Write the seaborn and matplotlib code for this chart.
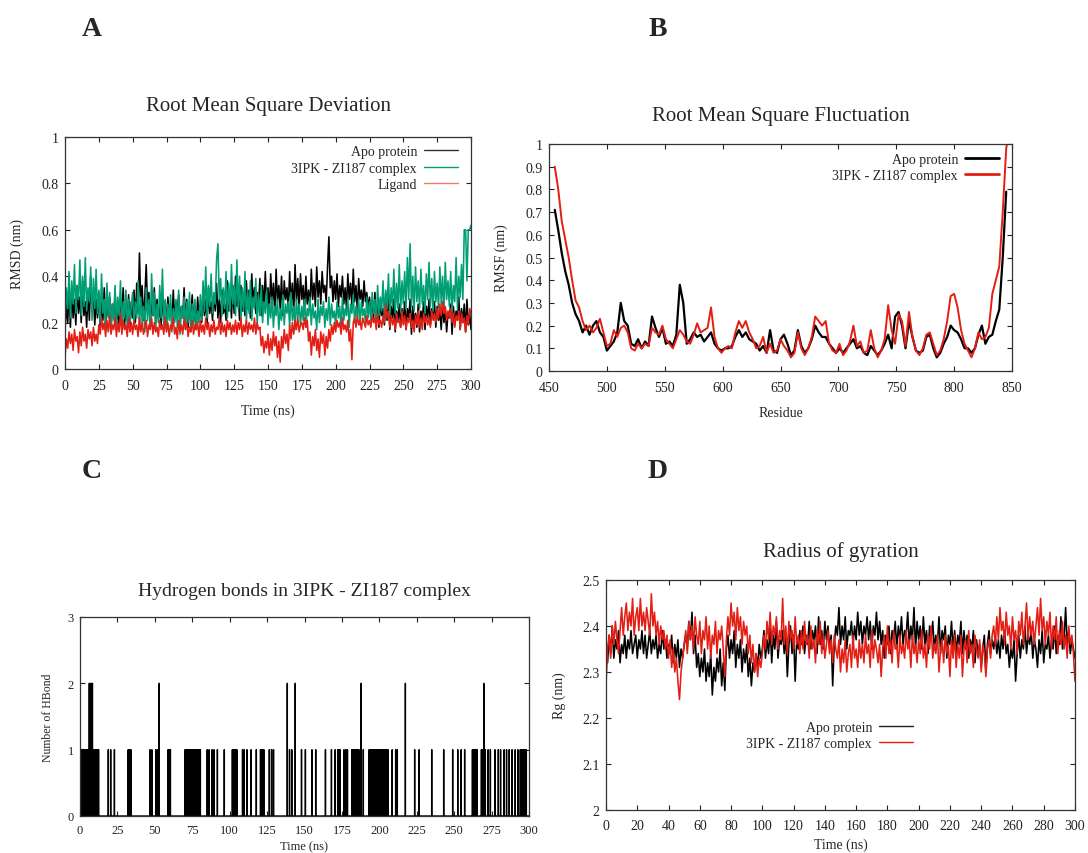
import numpy as np
import matplotlib
matplotlib.use("Agg")
import matplotlib.pyplot as plt
from matplotlib.lines import Line2D
from matplotlib.ticker import FuncFormatter, MultipleLocator
import seaborn as sns

# ---------------- data ----------------
# Panel A: RMSD (nm), sampled every 1 ns from 0 to 300 ns
rmsd_time_step = 1.0
rmsd_apo = [
    .16, .28, .20, .33, .18, .35, .22, .30, .19, .36, .24, .31, .20, .38, .23, .29, .18, .34, .21, .40, .25, .32, .19, .30, .22,
    .33, .18, .29, .21, .35, .19, .27, .23, .31, .17, .28, .22, .33, .20, .26, .18, .30, .24, .35, .19, .27, .21, .32, .18, .29,
    .22, .34, .20, .37, .24, .50, .27, .36, .21, .31, .45, .26, .33, .19, .29, .23, .35, .20, .30, .22, .27, .18, .33, .21, .29,
    .19, .31, .23, .28, .18, .34, .21, .29, .25, .32, .19, .27, .22, .35, .20, .30, .18, .26, .23, .32, .20, .28, .17, .31, .22,
    .27, .20, .33, .23, .30, .19, .35, .24, .29, .21, .32, .25, .37, .22, .30, .20, .34, .24, .28, .21, .38, .25, .33, .22, .36,
    .24, .40, .27, .33, .21, .36, .25, .31, .23, .38, .26, .34, .22, .41, .28, .35, .24, .33, .27, .39, .23, .36, .26, .42, .28,
    .35, .25, .41, .28, .37, .24, .43, .29, .36, .26, .40, .23, .38, .30, .35, .25, .42, .28, .37, .24, .45, .29, .39, .26, .41,
    .30, .36, .25, .40, .28, .34, .26, .43, .30, .37, .27, .44, .31, .38, .28, .42, .33, .36, .29, .44, .57, .35, .40, .29, .38,
    .30, .41, .27, .36, .31, .40, .28, .35, .26, .41, .30, .37, .27, .43, .29, .36, .25, .39, .30, .34, .27, .38, .29, .33, .26,
    .31, .24, .29, .22, .33, .20, .28, .18, .30, .23, .26, .19, .29, .21, .32, .17, .27, .22, .30, .16, .25, .21, .28, .18, .26,
    .20, .29, .17, .26, .22, .30, .15, .27, .20, .24, .18, .28, .16, .25, .21, .29, .17, .27, .22, .30, .19, .26, .23, .29, .18,
    .27, .21, .25, .17, .29, .20, .26, .16, .24, .22, .28, .15, .27, .19, .25, .21, .31, .17, .26, .20, .28, .16, .30, .19, .24,
    .17]
rmsd_complex = [
    .20, .35, .26, .42, .22, .38, .28, .45, .24, .36, .30, .47, .23, .40, .27, .48, .25, .35, .29, .44, .21, .39, .26, .43, .24,
    .34, .20, .41, .24, .30, .18, .37, .22, .33, .17, .28, .21, .36, .19, .31, .23, .38, .18, .29, .22, .34, .17, .30, .20, .27,
    .33, .18, .29, .22, .38, .17, .31, .20, .27, .16, .35, .21, .30, .18, .41, .23, .33, .17, .28, .20, .36, .22, .43, .19, .30,
    .17, .28, .21, .32, .16, .26, .20, .30, .18, .34, .15, .27, .22, .31, .17, .29, .20, .33, .16, .28, .19, .30, .17, .25, .20,
    .32, .21, .38, .25, .44, .22, .36, .27, .41, .24, .33, .28, .47, .54, .30, .39, .23, .35, .26, .42, .22, .37, .25, .45, .28,
    .36, .23, .47, .26, .40, .21, .35, .25, .42, .20, .33, .24, .38, .21, .31, .26, .39, .19, .32, .23, .36, .20, .29, .24, .34,
    .19, .28, .22, .31, .18, .27, .23, .30, .17, .26, .21, .32, .19, .28, .24, .29, .18, .33, .21, .27, .17, .30, .22, .28, .19,
    .27, .21, .30, .18, .26, .23, .31, .19, .28, .22, .25, .17, .30, .20, .27, .23, .29, .18, .26, .21, .31, .19, .28, .22, .25,
    .19, .29, .22, .27, .17, .31, .21, .26, .23, .30, .18, .28, .24, .32, .20, .27, .22, .30, .19, .29, .23, .26, .20, .31, .22,
    .29, .21, .33, .24, .30, .20, .36, .23, .31, .25, .38, .22, .34, .26, .41, .23, .35, .27, .43, .24, .37, .26, .45, .25, .38,
    .28, .42, .26, .48, .30, .54, .27, .40, .25, .44, .29, .38, .26, .43, .28, .36, .24, .41, .30, .46, .27, .39, .25, .42, .29,
    .37, .26, .44, .28, .40, .24, .46, .30, .38, .27, .42, .25, .36, .29, .48, .26, .40, .31, .45, .30, .60, .60, .38, .60, .60,
    .62]
rmsd_ligand = [
    .05, .13, .09, .16, .11, .15, .08, .17, .12, .14, .07, .16, .10, .18, .12, .15, .09, .17, .13, .16, .10, .18, .12, .15, .11,
    .19, .15, .22, .17, .20, .14, .21, .16, .23, .15, .19, .17, .22, .14, .20, .16, .24, .15, .21, .17, .19, .14, .22, .16, .20,
    .15, .21, .17, .19, .14, .22, .16, .20, .15, .18, .21, .14, .19, .17, .22, .15, .20, .16, .18, .14, .21, .17, .19, .15, .22,
    .16, .20, .14, .19, .17, .22, .15, .18, .13, .21, .16, .19, .15, .22, .17, .20, .14, .18, .16, .21, .15, .19, .17, .20, .14,
    .21, .16, .19, .15, .22, .17, .20, .14, .19, .16, .21, .15, .18, .17, .22, .15, .20, .16, .19, .14, .21, .17, .20, .15, .19,
    .16, .21, .15, .20, .17, .22, .14, .19, .16, .21, .15, .20, .17, .19, .16, .22, .15, .20, .17, .18, .10, .14, .07, .12, .09,
    .15, .06, .13, .08, .16, .10, .14, .05, .12, .03, .14, .09, .17, .11, .15, .08, .19, .13, .20, .15, .21, .17, .22, .16, .19,
    .20, .17, .22, .18, .21, .12, .16, .06, .14, .10, .17, .08, .13, .05, .16, .11, .15, .06, .14, .09, .17, .12, .19, .15, .20,
    .16, .21, .18, .20, .15, .22, .17, .19, .16, .21, .12, .17, .04, .20, .22, .18, .23, .19, .21, .17, .22, .20, .18, .23, .19,
    .21, .18, .23, .20, .22, .17, .24, .19, .21, .18, .23, .20, .28, .22, .25, .18, .23, .19, .22, .17, .24, .20, .21, .18, .25,
    .19, .23, .17, .22, .20, .24, .18, .21, .16, .23, .19, .25, .18, .22, .17, .24, .20, .23, .19, .22, .18, .25, .21, .24, .20,
    .26, .22, .28, .23, .29, .24, .27, .21, .25, .22, .26, .20, .24, .18, .23, .21, .25, .17, .24, .20, .22, .16, .23, .19, .26,
    .24]

# Panel B: RMSF (nm), every 3rd residue starting at residue 455
rmsf_first_residue = 455
rmsf_residue_step = 3
rmsf_apo = [
    .71, .62, .52, .44, .38, .30, .25, .22, .17, .20, .16, .20, .22, .17, .15,
    .09, .11, .13, .17, .30, .22, .20, .12, .11, .14, .10, .13, .11, .24, .19,
    .15, .19, .12, .13, .11, .16, .38, .30, .12, .14, .17, .15, .16, .13, .15,
    .17, .12, .10, .09, .10, .10, .11, .15, .18, .15, .17, .14, .13, .12, .09,
    .11, .08, .18, .09, .08, .14, .16, .12, .07, .09, .18, .11, .08, .10, .14,
    .20, .17, .15, .15, .12, .10, .08, .10, .08, .10, .12, .14, .10, .11, .08,
    .07, .11, .09, .07, .09, .12, .16, .10, .24, .26, .20, .10, .22, .15, .09,
    .08, .09, .15, .16, .10, .06, .08, .12, .15, .20, .18, .17, .14, .10, .10,
    .08, .10, .16, .20, .12, .15, .16, .22, .27, .50, .79]
rmsf_complex = [
    .90, .80, .66, .58, .50, .40, .31, .28, .22, .18, .20, .17, .19, .23, .17,
    .11, .12, .18, .15, .19, .20, .17, .10, .09, .12, .10, .12, .11, .19, .17,
    .16, .20, .14, .12, .10, .14, .18, .16, .13, .12, .16, .21, .17, .18, .19,
    .28, .15, .10, .08, .10, .11, .10, .17, .22, .19, .22, .17, .14, .10, .11,
    .15, .08, .12, .08, .09, .14, .11, .09, .06, .08, .17, .10, .07, .10, .15,
    .24, .22, .20, .22, .12, .09, .08, .12, .07, .09, .13, .20, .11, .13, .08,
    .09, .18, .10, .06, .09, .14, .29, .18, .12, .25, .22, .11, .26, .15, .09,
    .07, .10, .16, .17, .12, .07, .09, .14, .22, .33, .34, .28, .18, .12, .09,
    .06, .10, .17, .14, .15, .19, .34, .40, .46, .70, .98, 1.08]

# Panel C: hydrogen bonds (times in ns)
hbond_dense_ns = [
    0.2, 0.8, 1.4, 2.0, 2.6, 3.2, 3.8, 4.4, 5.0, 5.6, 6.6, 7.2, 7.8, 8.8, 9.4,
    10.0, 10.8, 11.6, 12.4,
    32.2, 32.8, 33.4, 34.0,
    58.8, 59.6, 60.4,
    70.2, 70.8, 71.4, 72.0, 72.6, 73.2, 73.8, 74.4, 75.0, 75.6, 76.2, 76.8,
    77.4, 78.0, 78.6, 79.2, 79.8, 80.4,
    101.8, 102.6, 103.4, 104.2, 104.8,
    120.6, 121.4, 122.2, 122.8,
    172.2, 173.0, 173.8,
    181.6, 182.2, 182.8, 183.4, 184.0, 184.6, 185.2, 185.8, 186.4,
    193.2, 194.0, 194.8, 195.6, 196.4, 197.0, 197.8, 198.6, 199.4, 200.2,
    201.0, 201.8, 202.6, 203.4, 204.2, 205.0, 205.8,
    262.2, 262.8, 263.4, 264.0, 264.6, 265.4,
    268.2, 268.8, 269.4, 270.2, 270.8,
    294.2, 295.0, 295.8, 296.6, 297.4, 298.2]
hbond_single_ns = [
    18.9, 20.5, 23.0, 46.7, 48.0, 50.6, 51.8, 85.0, 86.3, 88.3, 89.5, 91.8,
    96.4, 108.6, 109.7, 111.6, 114.3, 117.8, 126.5, 128.0, 129.3, 140.0,
    141.5, 148.0, 150.6, 155.0, 157.5, 164.0, 168.0, 170.5, 176.4, 177.6,
    178.7, 189.3, 208.6, 210.9, 212.0, 223.6, 226.6, 235.0, 243.0, 249.0,
    252.4, 254.7, 257.0, 272.7, 274.2, 277.2, 279.5, 281.0, 283.4, 285.0,
    286.8, 288.7, 290.8, 292.6]
hbond_double_ns = [6.2, 7.2, 8.3, 52.9, 138.5, 143.8, 187.8, 217.4, 269.8]

# Panel D: radius of gyration (nm), every 1 ns
rg_time_step = 1.0
rg_apo = [
    2.35, 2.32, 2.38, 2.34, 2.40, 2.33, 2.37, 2.35, 2.39, 2.32, 2.36, 2.34, 2.38, 2.33, 2.37, 2.35, 2.39, 2.34, 2.36, 2.38, 2.33, 2.37, 2.35, 2.39, 2.34,
    2.38, 2.33, 2.36, 2.39, 2.34, 2.37, 2.35, 2.38, 2.33, 2.36, 2.34, 2.39, 2.35, 2.37, 2.33, 2.36, 2.34, 2.38, 2.32, 2.36, 2.33, 2.37, 2.31, 2.35, 2.33,
    2.36, 2.38, 2.35, 2.41, 2.37, 2.43, 2.34, 2.38, 2.31, 2.34, 2.29, 2.33, 2.30, 2.35, 2.28, 2.32, 2.29, 2.34, 2.25, 2.31, 2.28, 2.33, 2.30, 2.35, 2.27,
    2.32, 2.26, 2.35, 2.38, 2.33, 2.37, 2.34, 2.39, 2.31, 2.36, 2.33, 2.37, 2.30, 2.35, 2.32, 2.36, 2.29, 2.33, 2.27, 2.32, 2.30, 2.34, 2.31, 2.36, 2.33,
    2.35, 2.39, 2.33, 2.37, 2.34, 2.40, 2.32, 2.38, 2.35, 2.41, 2.33, 2.37, 2.36, 2.39, 2.34, 2.38, 2.29, 2.36, 2.40, 2.34, 2.38, 2.28, 2.37, 2.35, 2.39,
    2.36, 2.40, 2.34, 2.38, 2.36, 2.41, 2.35, 2.39, 2.37, 2.40, 2.34, 2.42, 2.36, 2.39, 2.35, 2.41, 2.37, 2.40, 2.35, 2.38, 2.27, 2.36, 2.40, 2.38, 2.44,
    2.36, 2.40, 2.37, 2.42, 2.35, 2.39, 2.38, 2.41, 2.36, 2.40, 2.37, 2.43, 2.38, 2.41, 2.36, 2.40, 2.38, 2.42, 2.37, 2.41, 2.35, 2.40, 2.38, 2.43, 2.37,
    2.41, 2.36, 2.39, 2.33, 2.38, 2.36, 2.40, 2.34, 2.39, 2.37, 2.41, 2.35, 2.40, 2.37, 2.42, 2.36, 2.39, 2.38, 2.43, 2.36, 2.40, 2.37, 2.44, 2.35, 2.41,
    2.37, 2.40, 2.35, 2.42, 2.36, 2.39, 2.34, 2.40, 2.37, 2.41, 2.35, 2.38, 2.36, 2.42, 2.34, 2.39, 2.37, 2.40, 2.33, 2.38, 2.36, 2.41, 2.35, 2.39, 2.34,
    2.38, 2.36, 2.41, 2.34, 2.39, 2.35, 2.38, 2.33, 2.37, 2.35, 2.39, 2.32, 2.37, 2.34, 2.36, 2.31, 2.35, 2.38, 2.30, 2.36, 2.39, 2.34, 2.37, 2.35, 2.38,
    2.34, 2.37, 2.33, 2.38, 2.35, 2.39, 2.34, 2.36, 2.31, 2.35, 2.33, 2.37, 2.28, 2.34, 2.38, 2.33, 2.37, 2.35, 2.40, 2.34, 2.38, 2.36, 2.39, 2.33, 2.37,
    2.35, 2.31, 2.37, 2.34, 2.39, 2.32, 2.36, 2.35, 2.38, 2.33, 2.37, 2.35, 2.40, 2.34, 2.38, 2.36, 2.42, 2.35, 2.37, 2.44, 2.36, 2.39, 2.34, 2.37, 2.35,
    2.33]
rg_complex = [
    2.27, 2.35, 2.38, 2.33, 2.40, 2.36, 2.41, 2.37, 2.34, 2.39, 2.44, 2.38, 2.42, 2.45, 2.39, 2.43, 2.40, 2.46, 2.38, 2.42, 2.44, 2.39, 2.46, 2.40, 2.43,
    2.39, 2.44, 2.41, 2.38, 2.47, 2.40, 2.43, 2.38, 2.41, 2.36, 2.40, 2.37, 2.39, 2.35, 2.38, 2.33, 2.37, 2.31, 2.35, 2.30, 2.33, 2.28, 2.24, 2.30, 2.33,
    2.36, 2.39, 2.34, 2.41, 2.37, 2.40, 2.35, 2.42, 2.38, 2.36, 2.41, 2.34, 2.39, 2.37, 2.42, 2.35, 2.40, 2.33, 2.38, 2.36, 2.41, 2.34, 2.39, 2.37, 2.40,
    2.35, 2.29, 2.37, 2.42, 2.38, 2.45, 2.40, 2.43, 2.37, 2.44, 2.39, 2.42, 2.36, 2.41, 2.38, 2.40, 2.34, 2.38, 2.32, 2.36, 2.30, 2.34, 2.29, 2.33, 2.31,
    2.34, 2.38, 2.35, 2.41, 2.37, 2.43, 2.36, 2.40, 2.38, 2.42, 2.35, 2.39, 2.37, 2.46, 2.36, 2.40, 2.34, 2.41, 2.37, 2.39, 2.35, 2.42, 2.36, 2.38, 2.34,
    2.39, 2.35, 2.41, 2.36, 2.38, 2.33, 2.40, 2.35, 2.37, 2.32, 2.39, 2.36, 2.41, 2.34, 2.38, 2.33, 2.36, 2.39, 2.34, 2.37, 2.32, 2.38, 2.35, 2.33, 2.37,
    2.30, 2.35, 2.32, 2.37, 2.30, 2.34, 2.36, 2.31, 2.38, 2.33, 2.35, 2.31, 2.37, 2.33, 2.36, 2.32, 2.38, 2.34, 2.36, 2.31, 2.39, 2.33, 2.37, 2.35, 2.32,
    2.36, 2.29, 2.35, 2.38, 2.33, 2.40, 2.34, 2.37, 2.32, 2.39, 2.35, 2.36, 2.31, 2.38, 2.34, 2.36, 2.33, 2.39, 2.35, 2.37, 2.31, 2.38, 2.34, 2.36, 2.32,
    2.37, 2.34, 2.39, 2.33, 2.36, 2.31, 2.38, 2.35, 2.40, 2.33, 2.36, 2.34, 2.38, 2.30, 2.35, 2.37, 2.32, 2.38, 2.34, 2.36, 2.29, 2.37, 2.33, 2.38, 2.31,
    2.36, 2.33, 2.38, 2.29, 2.35, 2.37, 2.32, 2.39, 2.34, 2.36, 2.31, 2.38, 2.35, 2.33, 2.37, 2.30, 2.36, 2.34, 2.29, 2.35, 2.37, 2.33, 2.38, 2.40, 2.36,
    2.42, 2.37, 2.44, 2.39, 2.41, 2.36, 2.43, 2.38, 2.40, 2.35, 2.42, 2.37, 2.39, 2.34, 2.41, 2.38, 2.43, 2.36, 2.40, 2.45, 2.37, 2.42, 2.38, 2.41, 2.36,
    2.40, 2.44, 2.38, 2.46, 2.39, 2.42, 2.36, 2.41, 2.38, 2.43, 2.35, 2.40, 2.37, 2.42, 2.34, 2.39, 2.36, 2.41, 2.35, 2.38, 2.33, 2.40, 2.36, 2.38, 2.34,
    2.28]

# ---------------- style ----------------
sns.set_theme(style="ticks")
plt.rcParams["font.family"] = ["Liberation Serif", "DejaVu Serif"]
plt.rcParams["axes.linewidth"] = 0.9

BLACK = "#000000"
GREEN = "#009E73"
RED = "#E31E14"

W, H = 1088.0, 854.0
fig = plt.figure(figsize=(10.88, 8.54), dpi=100)


def px_axes(left, top, right, bottom):
    return fig.add_axes([left / W, 1 - bottom / H, (right - left) / W, (bottom - top) / H])


fmt = FuncFormatter(lambda v, p: "%g" % round(v, 4))


def style_axes(ax, fs=10, xpad=7.5):
    ax.tick_params(direction="in", top=True, right=True, length=3.5, width=0.8,
                   labelsize=fs, colors="#222222")
    ax.tick_params(axis="x", pad=xpad)
    ax.tick_params(axis="y", pad=4.5)
    for s in ax.spines.values():
        s.set_visible(True)
        s.set_color("#333333")
    ax.xaxis.set_major_formatter(fmt)
    ax.yaxis.set_major_formatter(fmt)


def legend(ax, labels, colors, lw, right_px, top_px, spacing=0.26):
    handles = [Line2D([0], [0], color=c, lw=lw) for c in colors]
    return ax.legend(handles, labels, markerfirst=False, frameon=False,
                     fontsize=10, handlelength=2.45, handletextpad=0.5,
                     labelspacing=spacing, borderpad=0, borderaxespad=0,
                     loc="upper right",
                     bbox_to_anchor=(right_px / W, 1 - top_px / H),
                     bbox_transform=fig.transFigure)


DENSE_LW = 1.15

# ---------------- A: RMSD ----------------
axA = px_axes(65, 138, 471, 370)
for vals, col in [(rmsd_apo, BLACK), (rmsd_complex, GREEN), (rmsd_ligand, RED)]:
    sns.lineplot(x=np.arange(len(vals)) * rmsd_time_step, y=vals, ax=axA,
                 color=col, lw=DENSE_LW, estimator=None)
axA.set_xlim(0, 300)
axA.set_ylim(0, 1)
axA.xaxis.set_major_locator(MultipleLocator(25))
axA.yaxis.set_major_locator(MultipleLocator(0.2))
style_axes(axA)
axA.set_xlabel("Time (ns)", fontsize=10, labelpad=8)
axA.set_ylabel("RMSD (nm)", fontsize=10)
axA.yaxis.set_label_coords(-0.101, 0.5)
legend(axA, ["Apo protein", "3IPK - ZI187 complex", "Ligand"],
       ["#333333", GREEN, "#F07A6A"], 1.0, 458, 146)

# ---------------- B: RMSF ----------------
axB = px_axes(549, 145, 1012, 372)
rB = rmsf_first_residue + np.arange(len(rmsf_apo)) * rmsf_residue_step
rB2 = rmsf_first_residue + np.arange(len(rmsf_complex)) * rmsf_residue_step
sns.lineplot(x=rB, y=rmsf_apo, ax=axB, color=BLACK, lw=1.6, estimator=None)
sns.lineplot(x=rB2, y=rmsf_complex, ax=axB, color=RED, lw=1.4, estimator=None)
axB.set_xlim(450, 850)
axB.set_ylim(0, 1)
axB.xaxis.set_major_locator(MultipleLocator(50))
axB.yaxis.set_major_locator(MultipleLocator(0.1))
style_axes(axB)
axB.set_xlabel("Residue", fontsize=10, labelpad=8)
axB.set_ylabel("RMSF (nm)", fontsize=10)
axB.yaxis.set_label_coords(-0.0886, 0.5)
legend(axB, ["Apo protein", "3IPK - ZI187 complex"], [BLACK, RED], 2.0, 999, 154,
       spacing=0.2)

# ---------------- C: H-bonds ----------------
axC = px_axes(80, 618, 529, 817)
grid_t = np.round(np.arange(0, 300.05, 0.1), 1)
hb = np.zeros_like(grid_t)
for t in hbond_dense_ns + hbond_single_ns:
    i = int(round(t * 10))
    hb[i] = max(hb[i], 1)
for t in hbond_double_ns:
    hb[int(round(t * 10))] = 2
axC.plot(grid_t, hb, color=BLACK, lw=1.0, drawstyle="steps-mid")
axC.set_xlim(0, 300)
axC.set_ylim(0, 3)
axC.xaxis.set_major_locator(MultipleLocator(25))
axC.yaxis.set_major_locator(MultipleLocator(1))
style_axes(axC, fs=9, xpad=6)
axC.set_xlabel("Time (ns)", fontsize=9, labelpad=3)
axC.set_ylabel("Number of HBond", fontsize=8.5)
axC.yaxis.set_label_coords(-0.058, 0.5)

# ---------------- D: Rg ----------------
axD = px_axes(606, 581, 1075, 811)
sns.lineplot(x=np.arange(len(rg_apo)) * rg_time_step, y=rg_apo, ax=axD,
             color=BLACK, lw=DENSE_LW, estimator=None)
sns.lineplot(x=np.arange(len(rg_complex)) * rg_time_step, y=rg_complex, ax=axD,
             color=RED, lw=DENSE_LW, estimator=None)
axD.set_xlim(0, 300)
axD.set_ylim(2, 2.5)
axD.xaxis.set_major_locator(MultipleLocator(20))
axD.yaxis.set_major_locator(MultipleLocator(0.1))
style_axes(axD, xpad=6.5)
axD.set_xlabel("Time (ns)", fontsize=10, labelpad=4)
axD.set_ylabel("Rg (nm)", fontsize=10)
axD.yaxis.set_label_coords(-0.085, 0.5)
legend(axD, ["Apo protein", "3IPK - ZI187 complex"], ["#222222", RED], 1.0, 913, 722,
       spacing=0.2)

# ---------------- titles & panel letters ----------------
for x, y, s, fs in [(268, 107, "Root Mean Square Deviation", 15),
                    (781, 116, "Root Mean Square Fluctuation", 15),
                    (304, 592, "Hydrogen bonds in 3IPK - ZI187 complex", 14),
                    (841, 552, "Radius of gyration", 15)]:
    fig.text(x / W, 1 - y / H, s, ha="center", va="center", fontsize=fs)
for x, y, s in [(92, 30, "A"), (658, 30, "B"), (92, 472, "C"), (658, 472, "D")]:
    fig.text(x / W, 1 - y / H, s, ha="center", va="center", fontsize=20,
             fontweight="bold")

fig.savefig("out.png", dpi=100, facecolor="white")
